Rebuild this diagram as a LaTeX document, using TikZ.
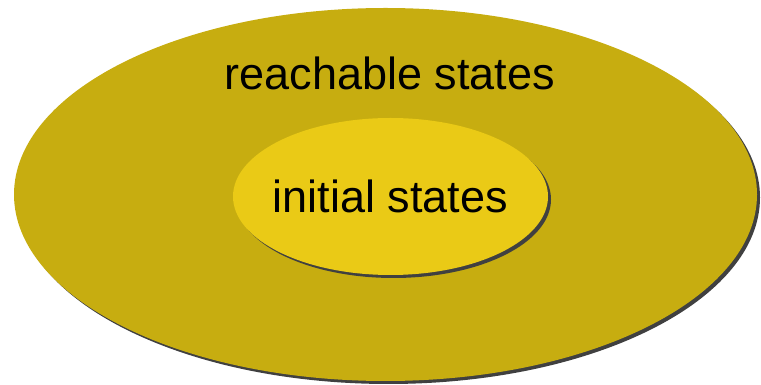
\documentclass[tikz,border=0pt]{standalone}
\usepackage{fontspec}
\setmainfont{Liberation Sans}
\usepackage{tikz}
\usetikzlibrary{shapes.geometric,shadows,positioning}
\usepackage{xcolor}
\definecolor{reachgold}{RGB}{199,173,16}
\definecolor{initgold}{RGB}{234,202,22}
\definecolor{shadowgray}{RGB}{64,64,64}

\begin{document}
\begin{tikzpicture}[
    x=1pt, y=1pt,
    region/.style={ellipse,inner sep=0pt,outer sep=0pt,
        drop shadow={shadow xshift=3pt,shadow yshift=-3pt,fill=shadowgray,opacity=1}},
    lbl/.style={font=\fontsize{45}{54}\selectfont,inner sep=0pt}
]
\useasboundingbox (0,0) rectangle (761,385);
\node[region,fill=reachgold,minimum width=743pt,minimum height=373pt] (reach) at (385.5,190.5) {};
\node[region,fill=initgold,minimum width=315pt,minimum height=157pt] (init) at (390.5,188.5) {};
\node[lbl] (initlbl) at (init.center) {initial states};
\node[lbl] (reachlbl) at (390,312) {reachable states};
\end{tikzpicture}
\end{document}
